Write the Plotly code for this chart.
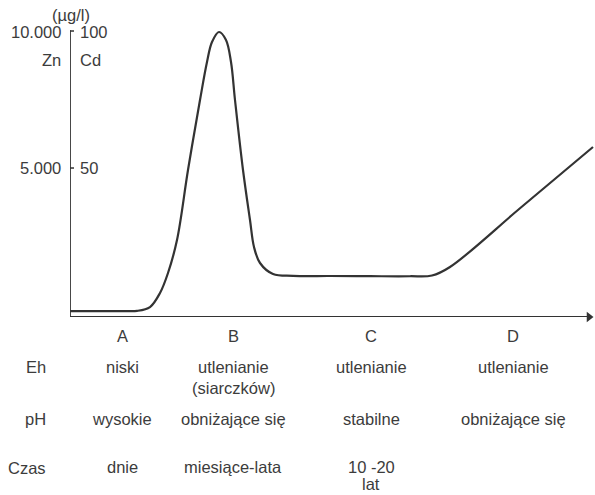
import plotly.graph_objects as go

# ---- data ----
time_x = [0, 30, 55, 67, 80, 90, 98, 107, 118, 130, 137, 142, 149, 156, 161, 165, 173, 180, 184,
          190, 203, 223, 260, 300, 340, 362, 380, 450, 523]
conc_zn = [-220, -220, -220, -215, -74, 438, 1168, 2372, 4927, 7482, 8869, 9599, 9964, 9672, 8869,
           7482, 4927, 3102, 2117, 1533, 1131, 1065, 1058, 1052, 1050, 1075, 1387, 3530, 5766]

stages = ["A", "B", "C", "D"]
stage_bounds = [82, 216, 364]
row_names = ["Eh", "pH", "Czas"]
eh_vals = ["niski", "utlenianie<br>(siarczków)", "utlenianie", "utlenianie"]
ph_vals = ["wysokie", "obniżające się", "stabilne", "obniżające się"]
czas_vals = ["dnie", "miesiące-lata", "10 -20<br>lat", ""]
zn_ticks = [5000, 10000]
zn_labels = ["5.000", "10.000"]
cd_labels = ["50", "100"]

# ---- layout helpers ----
W, H = 595, 495
L, T, B = 70, 20, 317
YMIN, YMAX = -438, 10402
XMAX = 525
col_x = [52, 163, 301, 443]

def py2paper(py):
    return (B - py) / (B - T)

def px2paper(px):
    return (px - L) / XMAX

FONT = dict(family="Liberation Sans, Arial, sans-serif", size=16.5, color="#3c3c3c")
LINE = "#333333"

fig = go.Figure()
fig.add_trace(go.Scatter(x=time_x, y=conc_zn, mode="lines",
                         line=dict(color=LINE, width=2.2, shape="spline", smoothing=1.0),
                         hoverinfo="skip", showlegend=False))
fig.add_trace(go.Scatter(x=[519], y=[YMIN], mode="markers",
                         marker=dict(symbol="triangle-right", size=9, color=LINE),
                         cliponaxis=False, showlegend=False, hoverinfo="skip"))

shapes = []
shapes.append(dict(type="line", xref="x", yref="y", x0=0, x1=0, y0=zn_ticks[-1] + 30, y1=YMIN,
                   line=dict(color=LINE, width=1.8)))
for t in zn_ticks:
    shapes.append(dict(type="line", xref="x", yref="y", x0=-4, x1=4, y0=t, y1=t,
                       line=dict(color=LINE, width=1.5)))
for b in stage_bounds:
    shapes.append(dict(type="line", xref="x", yref="y", x0=b, x1=b, y0=YMIN, y1=YMIN - 150,
                       line=dict(color=LINE, width=1.3)))
shapes.append(dict(type="line", xref="x", yref="y", x0=0, x1=520, y0=YMIN, y1=YMIN,
                   line=dict(color=LINE, width=1.8)))

ann = []
def text(px, py, s, anchor="center"):
    ann.append(dict(x=px2paper(px), y=py2paper(py), xref="paper", yref="paper", text=s,
                    showarrow=False, xanchor=anchor, yanchor="middle", font=FONT))

tick_py = [168, 32]
for py, zl, cl in zip(tick_py, zn_labels, cd_labels):
    text(63, py, zl, "right")
    text(78, py, cl, "left")
text(71, 15, "(µg/l)")
text(63, 60, "Zn", "right")
text(78, 60, "Cd", "left")

for s, cx in zip(stages, col_x):
    text(L + cx, 336, s)

row_y = [367, 419, 467]
row_gap = [21, 21, 17]
row_vals = [eh_vals, ph_vals, czas_vals]
for name, ry, gap, vals in zip(row_names, row_y, row_gap, row_vals):
    text(48, ry + (1 if name == "Czas" else 0), name, "right")
    for v, cx in zip(vals, col_x):
        for i, line in enumerate(v.split("<br>")):
            if line:
                text(L + cx, ry + i * gap, line)

fig.update_layout(
    width=W, height=H,
    margin=dict(l=L, r=W - L - XMAX, t=T, b=H - B),
    paper_bgcolor="white", plot_bgcolor="white",
    xaxis=dict(range=[0, XMAX], showgrid=False, zeroline=False, showticklabels=False,
               showline=False, ticks=""),
    yaxis=dict(range=[YMIN, YMAX], showgrid=False, zeroline=False, showticklabels=False,
               showline=False, ticks=""),
    shapes=shapes,
    annotations=ann,
    showlegend=False,
)
fig.write_html("out.html")
